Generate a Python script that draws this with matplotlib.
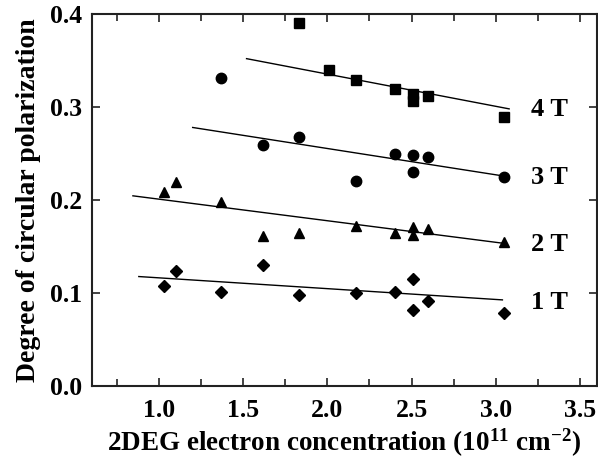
import matplotlib
matplotlib.use('Agg')
import matplotlib.pyplot as plt
from matplotlib.ticker import MultipleLocator

x_4t = [1.83, 2.01, 2.17, 2.40, 2.51, 2.51, 2.60, 3.05]
y_4t = [0.390, 0.340, 0.329, 0.319, 0.314, 0.307, 0.312, 0.289]

x_3t = [1.37, 1.62, 1.83, 2.17, 2.40, 2.51, 2.51, 2.60, 3.05]
y_3t = [0.331, 0.259, 0.268, 0.220, 0.249, 0.248, 0.230, 0.246, 0.225]

x_2t = [1.03, 1.10, 1.37, 1.62, 1.83, 2.17, 2.40, 2.51, 2.51, 2.60, 3.05]
y_2t = [0.209, 0.219, 0.198, 0.161, 0.164, 0.172, 0.165, 0.171, 0.162, 0.169, 0.155]

x_1t = [1.03, 1.10, 1.37, 1.62, 1.83, 2.17, 2.40, 2.51, 2.51, 2.60, 3.05]
y_1t = [0.108, 0.124, 0.101, 0.130, 0.098, 0.1005, 0.101, 0.115, 0.082, 0.0915, 0.078]

# linear fit lines (end points)
fit_x_4t = [1.52, 3.08]
fit_y_4t = [0.352, 0.298]
fit_x_3t = [1.20, 3.04]
fit_y_3t = [0.278, 0.226]
fit_x_2t = [0.845, 3.04]
fit_y_2t = [0.2045, 0.1536]
fit_x_1t = [0.88, 3.04]
fit_y_1t = [0.1177, 0.0926]

field_labels = ['4 T', '3 T', '2 T', '1 T']
label_y = [0.297, 0.224, 0.152, 0.0895]

plt.rcParams['font.family'] = ['Liberation Serif', 'DejaVu Serif']
plt.rcParams['font.weight'] = 'bold'
plt.rcParams['mathtext.fontset'] = 'custom'
plt.rcParams['mathtext.rm'] = 'Liberation Serif:bold'
plt.rcParams['mathtext.default'] = 'rm'

fig = plt.figure(figsize=(5.98, 4.58), dpi=100)
ax = fig.add_axes([0.1533, 0.1572, 0.8445, 0.8122])

ax.plot(fit_x_4t, fit_y_4t, color='black', lw=1.0)
ax.plot(fit_x_3t, fit_y_3t, color='black', lw=1.0)
ax.plot(fit_x_2t, fit_y_2t, color='black', lw=1.0)
ax.plot(fit_x_1t, fit_y_1t, color='black', lw=1.0)

ax.plot(x_4t, y_4t, 's', color='black', ms=6.5, ls='none')
ax.plot(x_3t, y_3t, 'o', color='black', ms=7.5, ls='none')
ax.plot(x_2t, y_2t, '^', color='black', ms=7.5, ls='none')
ax.plot(x_1t, y_1t, 'D', color='black', ms=6.5, ls='none')

for lab, yy in zip(field_labels, label_y):
    ax.text(3.32, yy, lab, fontsize=19, fontweight='bold', ha='center', va='center')

ax.set_xlim(0.6, 3.6)
ax.set_ylim(0.0, 0.4)
ax.xaxis.set_major_locator(MultipleLocator(0.5))
ax.xaxis.set_minor_locator(MultipleLocator(0.25))
ax.yaxis.set_major_locator(MultipleLocator(0.1))
ax.xaxis.set_major_formatter(matplotlib.ticker.FormatStrFormatter('%.1f'))
ax.yaxis.set_major_formatter(matplotlib.ticker.FormatStrFormatter('%.1f'))

ax.tick_params(which='both', direction='in', top=True, right=True, width=1.2, color='#222222')
ax.tick_params(which='major', length=6, labelsize=18.5)
ax.tick_params(axis='x', which='major', pad=9)
ax.tick_params(axis='y', which='major', pad=7)
ax.tick_params(which='minor', length=5)
for s in ax.spines.values():
    s.set_linewidth(1.5)
    s.set_color('#222222')

ax.set_xlabel('2DEG electron concentration (10$^{11}$ cm$^{-2}$)', fontsize=19.5, fontweight='bold', labelpad=4)
ax.set_ylabel('Degree of circular polarization', fontsize=20, fontweight='bold', labelpad=6)

fig.savefig('out.png', dpi=100)
